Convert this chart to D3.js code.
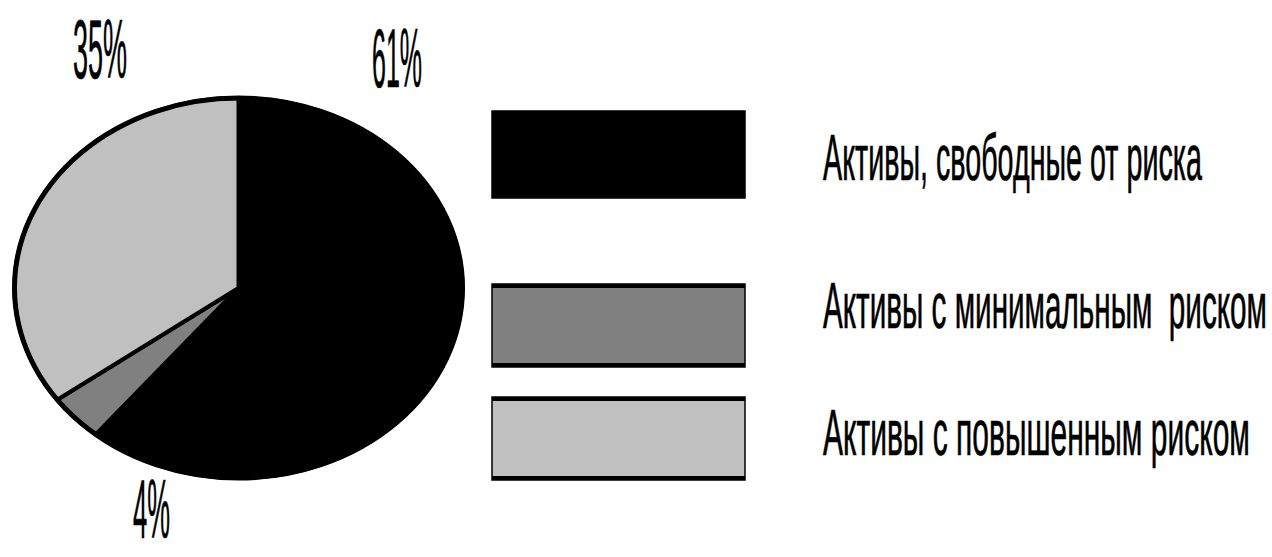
<!DOCTYPE html>
<html>
<head>
<meta charset="utf-8">
<script src="https://cdn.jsdelivr.net/npm/d3@7"></script>
<style>
  html, body { margin: 0; padding: 0; background: #fff; }
  svg { display: block; }
  text { font-family: "Liberation Sans", Arial, sans-serif; fill: #000; stroke: #000; stroke-width: 0.7px; white-space: pre; }
</style>
</head>
<body>
<svg id="chart" width="1272" height="557"></svg>
<script>
// Asset structure by risk level (percent)
const categories = [
  "Активы, свободные от риска",
  "Активы с минимальным  риском",
  "Активы с повышенным риском"
];
const shares = [61, 4, 35];
const colors = ["#000000", "#808080", "#c0c0c0"];
const shareLabels = shares.map(v => v + "%");

// Layout
const pie = { cx: 238.5, cy: 288, rx: 224, ry: 190 };
const pctSize = 84;
const labelSpots = [            // label anchor (left, baseline) and drawn width
  { x: 372, y: 87, w: 50 },
  { x: 133, y: 538, w: 37 },
  { x: 73, y: 78, w: 54 }
];
const legend = {
  x: 492, w: 253,
  rows: [ { y: 111, h: 87 }, { y: 284, h: 83 }, { y: 397, h: 83 } ],
  textX: 823,
  baselines: [180, 328, 455],
  textWidths: [379, 444, 427]
};

const svg = d3.select("#chart");
const data = categories.map((c, i) => ({ name: c, value: shares[i], color: colors[i], label: shareLabels[i] }));

// Condensed text: draw at full size, then squeeze horizontally to the wanted width
function condensed(sel, x, y, size, width, str) {
  const t = sel.append("text")
    .attr("font-size", size)
    .text(str);
  const natural = t.node().getComputedTextLength();
  t.attr("transform", `translate(${x},${y}) scale(${width / natural},1)`);
  return t;
}

// ---- pie (drawn on a unit circle, then stretched into an ellipse) ----
const R = 100;
const arcs = d3.pie().sort(null).value(d => d.value)(data);
const arc = d3.arc().innerRadius(0).outerRadius(R);

const pg = svg.append("g")
  .attr("transform", `translate(${pie.cx},${pie.cy}) scale(${pie.rx / R},${pie.ry / R})`);

pg.selectAll("path.slice")
  .data(arcs)
  .join("path")
  .attr("class", "slice")
  .attr("d", arc)
  .attr("fill", d => d.data.color)
  .attr("stroke", "#000")
  .attr("stroke-width", 4)
  .attr("stroke-linejoin", "round")
  .attr("vector-effect", "non-scaling-stroke");

// outer rim
pg.append("ellipse")
  .attr("rx", R).attr("ry", R)
  .attr("fill", "none")
  .attr("stroke", "#000")
  .attr("stroke-width", 5)
  .attr("vector-effect", "non-scaling-stroke");

// ---- percentage labels ----
data.forEach((d, i) => {
  const s = labelSpots[i];
  condensed(svg, s.x, s.y, pctSize, s.w, d.label).attr("class", "pct");
});

// ---- legend ----
const lg = svg.append("g");
data.forEach((d, i) => {
  const r = legend.rows[i];
  lg.append("rect")
    .attr("x", legend.x).attr("y", r.y)
    .attr("width", legend.w).attr("height", r.h)
    .attr("fill", d.color)
    .attr("stroke", "#000")
    .attr("stroke-width", 1.5);
  // heavier top and bottom edges
  [r.y + 2, r.y + r.h - 2].forEach(yy => {
    lg.append("line")
      .attr("x1", legend.x).attr("x2", legend.x + legend.w)
      .attr("y1", yy).attr("y2", yy)
      .attr("stroke", "#000")
      .attr("stroke-width", 4);
  });
  condensed(lg, legend.textX, legend.baselines[i], 64, legend.textWidths[i], d.name);
});
</script>
</body>
</html>
